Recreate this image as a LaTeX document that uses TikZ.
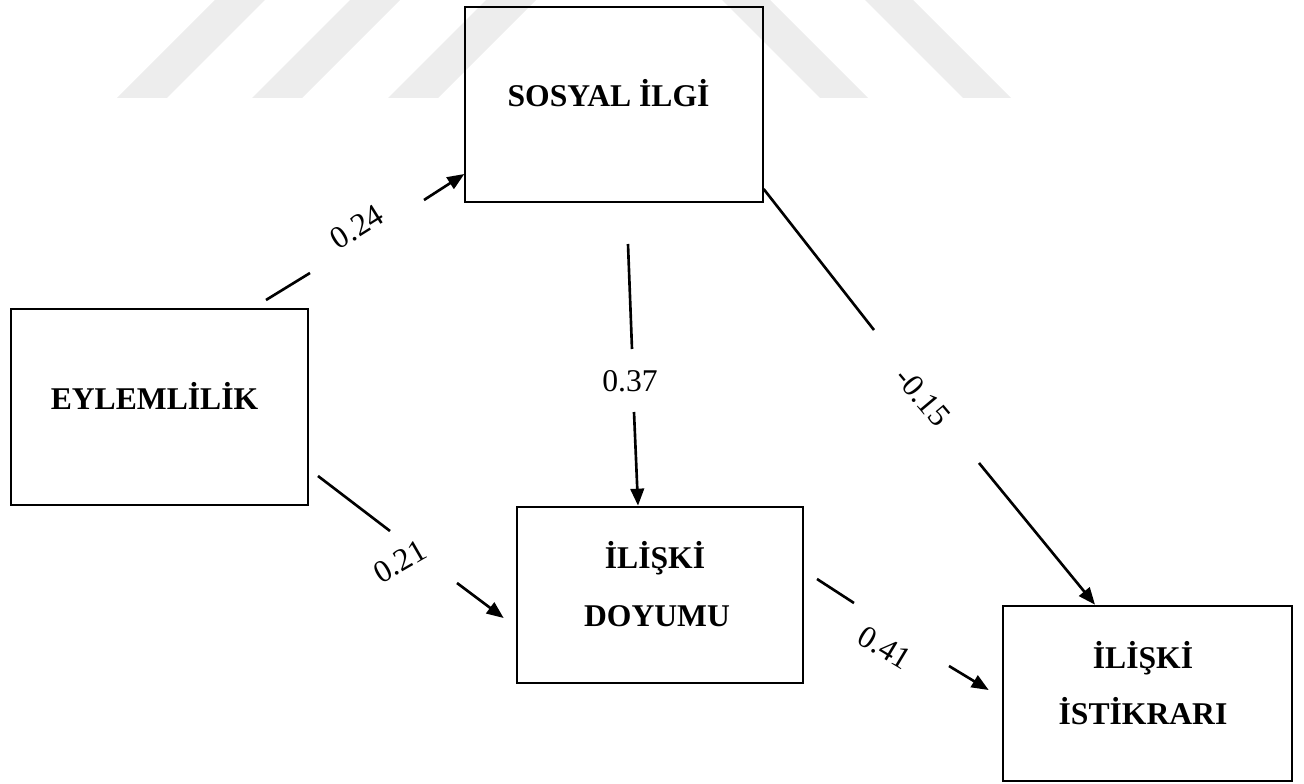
\documentclass[tikz,border=0pt]{standalone}
\usepackage{fontspec}
\setmainfont{Liberation Serif}
\usepackage{tikz}
\usetikzlibrary{calc}
\usetikzlibrary{positioning}
\usetikzlibrary{arrows.meta}

\begin{document}
\begin{tikzpicture}[
		thinbox/.style={rectangle, draw, line width=0.75pt},
		thickbox/.style={rectangle, draw, line width=1.5pt},
		title/.style={anchor=base, inner sep=0pt, font=\fontsize{18}{21}\selectfont\bfseries},
		coef/.style={inner sep=0pt, font=\fontsize{18}{21}\selectfont},
		effect/.style={line width=1.5pt, -{Triangle[length=0.34cm,width=0.27cm]}},
		wmark/.style={fill=black!7}
	]
	\useasboundingbox (0,0) rectangle (26.08,15.66);
	
	% watermark stripes
	\foreach \x in {2.34,5.04,7.76}
		\fill[wmark] (\x,13.70) -- ++(1,0) -- ++(1.96,1.96) -- ++(-1,0) -- cycle;
	\foreach \x in {16.40,19.26}
		\fill[wmark] (\x,13.70) -- ++(0.96,0) -- ++(-1.96,1.96) -- ++(-0.96,0) -- cycle;
	
	\node[thinbox, minimum width=5.96cm, minimum height=3.90cm] (sos) at (12.28,13.57) {};
	\node[thinbox, minimum width=5.94cm, minimum height=3.92cm] (eyl) at (3.19,7.52) {};
	\node[thickbox, minimum width=5.72cm, minimum height=3.52cm] (doy) at (13.20,3.76) {};
	\node[thickbox, minimum width=5.78cm, minimum height=3.50cm] (ist) at (22.95,1.79) {};
	
	\node[title] (sosA) at (12.17,13.52) {SOSYAL İLGİ};
	\node[title] (eylA) at (3.09,7.48) {EYLEMLİLİK};
	\node[title] (doyA) at (13.10,4.30) {İLİŞKİ};
	\node[title] (doyB) at (13.14,3.14) {DOYUMU};
	\node[title] (istA) at (22.86,2.30) {İLİŞKİ};
	\node[title] (istB) at (22.86,1.18) {İSTİKRARI};
	
	\coordinate (es1) at (5.32,9.66);
	\coordinate (es2) at (6.20,10.20);
	\coordinate (es3) at (8.48,11.66);
	\coordinate (sd1) at (12.56,10.78);
	\coordinate (sd2) at (12.64,8.68);
	\coordinate (sd3) at (12.68,7.42);
	\coordinate (si2) at (17.48,9.06);
	\coordinate (si3) at (19.58,6.40);
	\coordinate (ed1) at (6.36,6.14);
	\coordinate (ed2) at (7.80,5.04);
	\coordinate (ed3) at (9.14,4.00);
	\coordinate (di1) at (16.34,4.08);
	\coordinate (di2) at (17.08,3.60);
	\coordinate (di3) at (18.98,2.34);
	
	\draw[effect] (es1) -- (es2) (es3) -- ([yshift=-1.39cm]sos.west);
	\draw[effect] (sd1) -- (sd2) (sd3) -- ([xshift=-0.44cm]doy.north);
	\draw[effect] ([yshift=-1.69cm]sos.east) -- (si2) (si3) -- ([xshift=-1.05cm]ist.north);
	\draw[effect] (ed1) -- (ed2) (ed3) -- ([xshift=-0.24cm,yshift=-0.46cm]doy.west);
	\draw[effect] (di1) -- (di2) (di3) -- ([xshift=-0.26cm,yshift=0.07cm]ist.west);
	
	\node[coef, rotate=32] (w1) at (7.14,11.12) {0.24};
	\node[coef] (w2) at (12.60,8.04) {0.37};
	\node[coef, rotate=-50] (w3) at (18.46,7.72) {-0.15};
	\node[coef, rotate=30] (w4) at (8.00,4.42) {0.21};
	\node[coef, rotate=-31] (w5) at (17.70,2.70) {0.41};
\end{tikzpicture}
\end{document}
